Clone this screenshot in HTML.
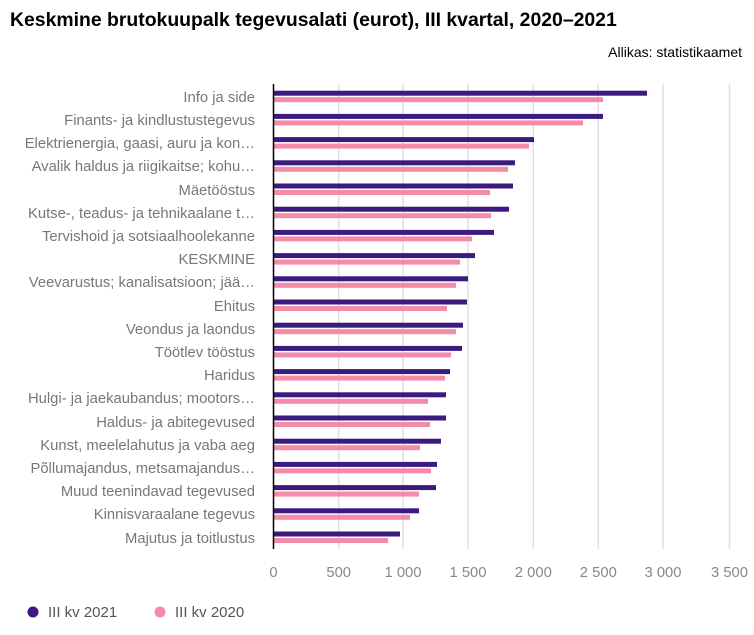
<!DOCTYPE html>
<html><head><meta charset="utf-8"><style>
body{margin:0;background:#fff;font-family:"Liberation Sans",sans-serif;}
</style></head><body>
<svg width="754" height="630" xmlns="http://www.w3.org/2000/svg" font-family="Liberation Sans, sans-serif">
<text x="10" y="26" font-size="19.4" font-weight="bold" fill="#000">Keskmine brutokuupalk tegevusalati (eurot), III kvartal, 2020–2021</text>
<text x="742" y="57" font-size="14" text-anchor="end" fill="#000">Allikas: statistikaamet</text>
<g stroke="#e0e0e0" stroke-width="1.5">
<line x1="338.7" y1="84" x2="338.7" y2="549"/><line x1="403" y1="84" x2="403" y2="549"/>
<line x1="468" y1="84" x2="468" y2="549"/><line x1="533.3" y1="84" x2="533.3" y2="549"/>
<line x1="598.3" y1="84" x2="598.3" y2="549"/><line x1="663" y1="84" x2="663" y2="549"/>
<line x1="729.5" y1="84" x2="729.5" y2="549"/>
</g>
<g fill="#3c1a80">
<rect x="274" y="90.7" width="373" height="5"/>
<rect x="274" y="113.9" width="329" height="5"/>
<rect x="274" y="137.1" width="260" height="5"/>
<rect x="274" y="160.3" width="241" height="5"/>
<rect x="274" y="183.5" width="239" height="5"/>
<rect x="274" y="206.7" width="235" height="5"/>
<rect x="274" y="229.9" width="220" height="5"/>
<rect x="274" y="253.1" width="201" height="5"/>
<rect x="274" y="276.3" width="194" height="5"/>
<rect x="274" y="299.5" width="193" height="5"/>
<rect x="274" y="322.7" width="189" height="5"/>
<rect x="274" y="345.9" width="188" height="5"/>
<rect x="274" y="369.1" width="176" height="5"/>
<rect x="274" y="392.3" width="172" height="5"/>
<rect x="274" y="415.5" width="172" height="5"/>
<rect x="274" y="438.7" width="167" height="5"/>
<rect x="274" y="461.9" width="163" height="5"/>
<rect x="274" y="485.1" width="162" height="5"/>
<rect x="274" y="508.3" width="145" height="5"/>
<rect x="274" y="531.5" width="126" height="5"/>
</g>
<g fill="#f48ca8">
<rect x="274" y="97.2" width="329" height="5"/>
<rect x="274" y="120.4" width="309" height="5"/>
<rect x="274" y="143.6" width="255" height="5"/>
<rect x="274" y="166.8" width="234" height="5"/>
<rect x="274" y="190" width="216" height="5"/>
<rect x="274" y="213.2" width="217" height="5"/>
<rect x="274" y="236.4" width="198" height="5"/>
<rect x="274" y="259.6" width="186" height="5"/>
<rect x="274" y="282.8" width="182" height="5"/>
<rect x="274" y="306" width="173" height="5"/>
<rect x="274" y="329.2" width="182" height="5"/>
<rect x="274" y="352.4" width="177" height="5"/>
<rect x="274" y="375.6" width="171" height="5"/>
<rect x="274" y="398.8" width="154" height="5"/>
<rect x="274" y="422" width="156" height="5"/>
<rect x="274" y="445.2" width="146" height="5"/>
<rect x="274" y="468.4" width="157" height="5"/>
<rect x="274" y="491.6" width="145" height="5"/>
<rect x="274" y="514.8" width="136" height="5"/>
<rect x="274" y="538" width="114" height="5"/>
</g>
<line x1="273.5" y1="84" x2="273.5" y2="549" stroke="#000" stroke-width="1.5"/>
<g font-size="14.8" fill="#888" text-anchor="middle">
<text x="273.5" y="577">0</text><text x="338.7" y="577">500</text><text x="403" y="577">1 000</text>
<text x="468" y="577">1 500</text><text x="533.3" y="577">2 000</text><text x="598.3" y="577">2 500</text>
<text x="663" y="577">3 000</text><text x="729.5" y="577">3 500</text>
</g>
<g font-size="14.8" fill="#777" text-anchor="end">
<text x="255" y="102">Info ja side</text>
<text x="255" y="125">Finants- ja kindlustustegevus</text>
<text x="255" y="148">Elektrienergia, gaasi, auru ja kon…</text>
<text x="255" y="171">Avalik haldus ja riigikaitse; kohu…</text>
<text x="255" y="195">Mäetööstus</text>
<text x="255" y="218">Kutse-, teadus- ja tehnikaalane t…</text>
<text x="255" y="241">Tervishoid ja sotsiaalhoolekanne</text>
<text x="255" y="264">KESKMINE</text>
<text x="255" y="287">Veevarustus; kanalisatsioon; jää…</text>
<text x="255" y="311">Ehitus</text>
<text x="255" y="334">Veondus ja laondus</text>
<text x="255" y="357">Töötlev tööstus</text>
<text x="255" y="380">Haridus</text>
<text x="255" y="403">Hulgi- ja jaekaubandus; mootors…</text>
<text x="255" y="427">Haldus- ja abitegevused</text>
<text x="255" y="450">Kunst, meelelahutus ja vaba aeg</text>
<text x="255" y="473">Põllumajandus, metsamajandus…</text>
<text x="255" y="496">Muud teenindavad tegevused</text>
<text x="255" y="519">Kinnisvaraalane tegevus</text>
<text x="255" y="543">Majutus ja toitlustus</text>
</g>
<circle cx="33" cy="612" r="5.5" fill="#3c1a80"/>
<text x="48" y="617" font-size="15" fill="#555">III kv 2021</text>
<circle cx="160" cy="612" r="5.5" fill="#f48ca8"/>
<text x="175" y="617" font-size="15" fill="#555">III kv 2020</text>
</svg>
</body></html>
